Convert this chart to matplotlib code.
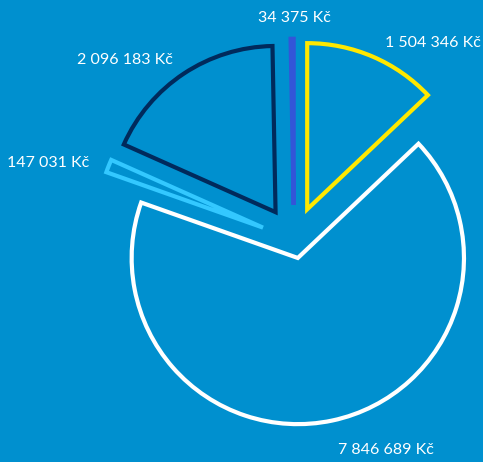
import matplotlib
matplotlib.use('Agg')
import matplotlib.pyplot as plt

values = [1504346, 7846689, 147031, 2096183, 34375]
labels = ["1 504 346 Kč", "7 846 689 Kč", "147 031 Kč", "2 096 183 Kč", "34 375 Kč"]
colors = ["#FFE800", "#FFFFFF", "#33C8FF", "#002A5C", "#3355D8"]
explode = [0.2, 0.11, 0.2, 0.2, 0.21]

# label positions (data units, pie radius = 1)
label_pos = [(0.83, 1.18), (0.55, -1.26), (-1.47, 0.46), (-1.01, 1.08), (0.0, 1.33)]

bg = "#0090CF"
fig = plt.figure(figsize=[4.83, 4.62], dpi=100)
fig.patch.set_facecolor(bg)
ax = fig.add_axes([0, 0, 1, 1])
ax.set_facecolor(bg)

wedges, _ = ax.pie(values, explode=explode, startangle=90, counterclock=False,
                   colors=colors, radius=0.995,
                   wedgeprops=dict(linewidth=3, joinstyle='miter'))
for w, c in zip(wedges, colors):
    w.set_facecolor('none')
    w.set_edgecolor(c)

for (x, y), t in zip(label_pos, labels):
    ax.text(x, y, t, color='white', fontsize=11.5, family='Lato',
            ha='center', va='center')

ax.set_xlim(-294 / 167, (483 - 294) / 167)
ax.set_ylim(-(462 - 240) / 167, 240 / 167)
ax.set_aspect('equal')
ax.axis('off')

fig.savefig('out.png', dpi=100, facecolor=bg)
